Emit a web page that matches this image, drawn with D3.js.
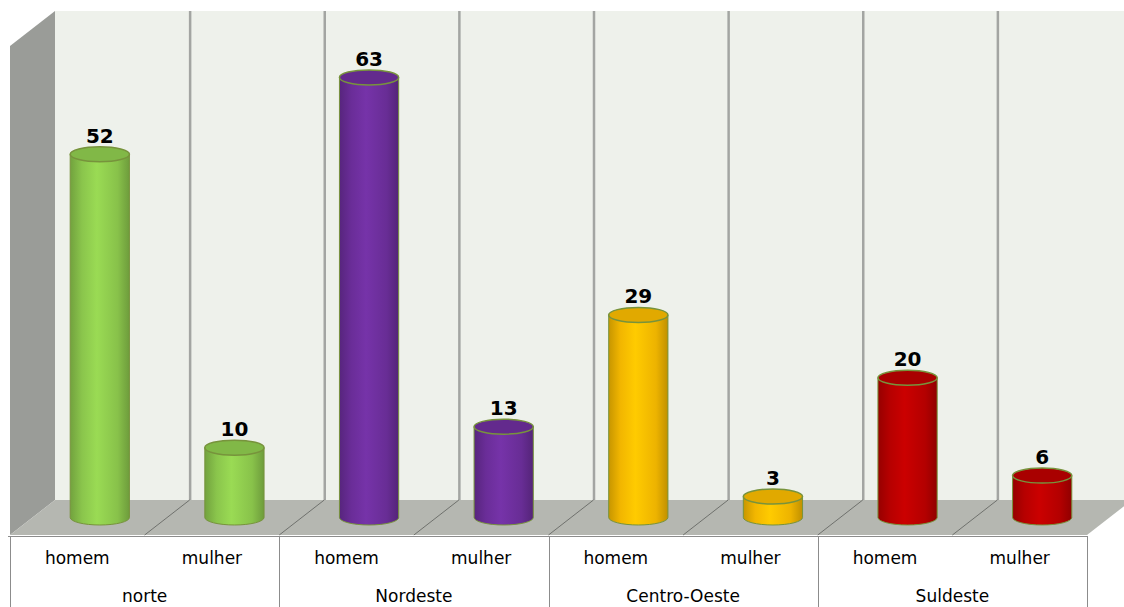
<!DOCTYPE html>
<html>
<head>
<meta charset="utf-8">
<script src="https://cdn.jsdelivr.net/npm/d3@7"></script>
<style>
  html, body { margin: 0; padding: 0; background: #fff; }
  svg { display: block; font-family: "DejaVu Sans", Verdana, sans-serif; }
</style>
</head>
<body>
<div id="chart"></div>
<script>
// chart data
const regions = ["norte", "Nordeste", "Centro-Oeste", "Suldeste"];
const genders = ["homem", "mulher"];
const homemValues = [52, 63, 29, 20];
const mulherValues = [10, 13, 3, 6];
const regionColors = ["#92d050", "#7030a0", "#ffc000", "#c00000"];

const width = 1124, height = 607;
const depthX = 45, depthY = -35;   // back plane offset from front plane

const svg = d3.select("#chart").append("svg")
    .attr("width", width)
    .attr("height", height);

// one slot per region/gender pair
const slots = [];
regions.forEach((r, i) => {
    genders.forEach((g, j) => {
        slots.push({
            key: r + "|" + g,
            region: r,
            gender: g,
            ri: i,
            value: (j === 0 ? homemValues : mulherValues)[i]
        });
    });
});

const x = d3.scaleBand()
    .domain(slots.map(d => d.key))
    .range([10, 1087]);

const xRegion = d3.scaleBand()
    .domain(regions)
    .range([10, 1087]);

// value scale on the back wall
const yBack = d3.scaleLinear().domain([0, 70]).range([500, 11]);
const yMid = v => yBack(v) - depthY / 2;

// gradients for cylinders
const defs = svg.append("defs");
const shade = (c, k) => d3.color(c).darker(k).formatHex();
const tint = (c, k) => d3.color(c).brighter(k).formatHex();
regionColors.forEach((c, i) => {
    const g = defs.append("linearGradient")
        .attr("id", "cyl" + i)
        .attr("x1", 0).attr("x2", 1).attr("y1", 0).attr("y2", 0);
    g.append("stop").attr("offset", 0).attr("stop-color", shade(c, 0.7));
    g.append("stop").attr("offset", 0.2).attr("stop-color", shade(c, 0.15));
    g.append("stop").attr("offset", 0.45).attr("stop-color", tint(c, 0.15));
    g.append("stop").attr("offset", 0.8).attr("stop-color", shade(c, 0.2));
    g.append("stop").attr("offset", 1).attr("stop-color", shade(c, 0.8));
});

// back wall
svg.append("rect")
    .attr("x", x.range()[0] + depthX)
    .attr("y", yBack(70))
    .attr("width", width)
    .attr("height", yBack(0) - yBack(70))
    .attr("fill", "#eef1eb");

// left side wall
svg.append("polygon")
    .attr("points", [
        [10, yBack(70) - depthY],
        [10 + depthX, yBack(70)],
        [10 + depthX, yBack(0)],
        [10, yBack(0) - depthY]
    ].map(p => p.join(",")).join(" "))
    .attr("fill", "#9a9c98");

// floor
svg.append("polygon")
    .attr("points", [
        [10, yBack(0) - depthY],
        [10 + depthX, yBack(0)],
        [1087 + depthX, yBack(0)],
        [1087, yBack(0) - depthY]
    ].map(p => p.join(",")).join(" "))
    .attr("fill", "#b5b7b1");

// grid lines on back wall and floor
const dividers = slots.slice(1).map(d => x(d.key));
svg.append("g").selectAll("line")
    .data(dividers)
    .join("line")
    .attr("x1", d => d + depthX + 0.5).attr("x2", d => d + depthX + 0.5)
    .attr("y1", yBack(70)).attr("y2", yBack(0))
    .attr("stroke", "#a3a5a2")
    .attr("stroke-width", 2.5);
svg.append("g").selectAll("line")
    .data(dividers)
    .join("line")
    .attr("x1", d => d).attr("y1", yBack(0) - depthY)
    .attr("x2", d => d + depthX).attr("y2", yBack(0))
    .attr("stroke", "#6f716d")
    .attr("stroke-width", 1);

// cylinders
const rx = x.bandwidth() * 0.22, ry = 7.5;
const cxOf = d => x(d.key) + x.bandwidth() / 2 + depthX / 2;
const bars = svg.append("g").selectAll("g")
    .data(slots)
    .join("g");

bars.append("path")
    .attr("d", d => {
        const cx = cxOf(d);
        const yt = yMid(d.value), yb = yMid(0);
        return `M${cx - rx},${yt} L${cx - rx},${yb} A${rx},${ry} 0 0 0 ${cx + rx},${yb} L${cx + rx},${yt} Z`;
    })
    .attr("fill", d => `url(#cyl${d.ri})`)
    .attr("stroke", "#77933c")
    .attr("stroke-width", 1);

bars.append("ellipse")
    .attr("cx", cxOf)
    .attr("cy", d => yMid(d.value))
    .attr("rx", rx)
    .attr("ry", ry)
    .attr("fill", d => shade(regionColors[d.ri], 0.35))
    .attr("stroke", "#77933c")
    .attr("stroke-width", 1.5);

bars.append("text")
    .attr("x", cxOf)
    .attr("y", d => yMid(d.value) - ry - 4)
    .attr("text-anchor", "middle")
    .attr("font-size", 20)
    .attr("font-weight", "bold")
    .attr("fill", "#000")
    .text(d => d.value);

// category table below the floor
const table = svg.append("g");
table.append("line")
    .attr("x1", 8).attr("x2", 1087)
    .attr("y1", 536.5).attr("y2", 536.5)
    .attr("stroke", "#8c8c8c");
table.selectAll("line.v")
    .data(regions.map(r => xRegion(r)).concat([xRegion.range()[1]]))
    .join("line")
    .attr("class", "v")
    .attr("x1", d => Math.round(d) + 0.5).attr("x2", d => Math.round(d) + 0.5)
    .attr("y1", 536).attr("y2", height)
    .attr("stroke", "#8c8c8c");

table.selectAll("text.g")
    .data(slots)
    .join("text")
    .attr("class", "g")
    .attr("x", d => x(d.key) + x.bandwidth() / 2)
    .attr("y", 564)
    .attr("text-anchor", "middle")
    .attr("font-size", 17)
    .attr("fill", "#000")
    .text(d => d.gender);

table.selectAll("text.r")
    .data(regions)
    .join("text")
    .attr("class", "r")
    .attr("x", d => xRegion(d) + xRegion.bandwidth() / 2)
    .attr("y", 602)
    .attr("text-anchor", "middle")
    .attr("font-size", 17)
    .attr("fill", "#000")
    .text(d => d);
</script>
</body>
</html>
